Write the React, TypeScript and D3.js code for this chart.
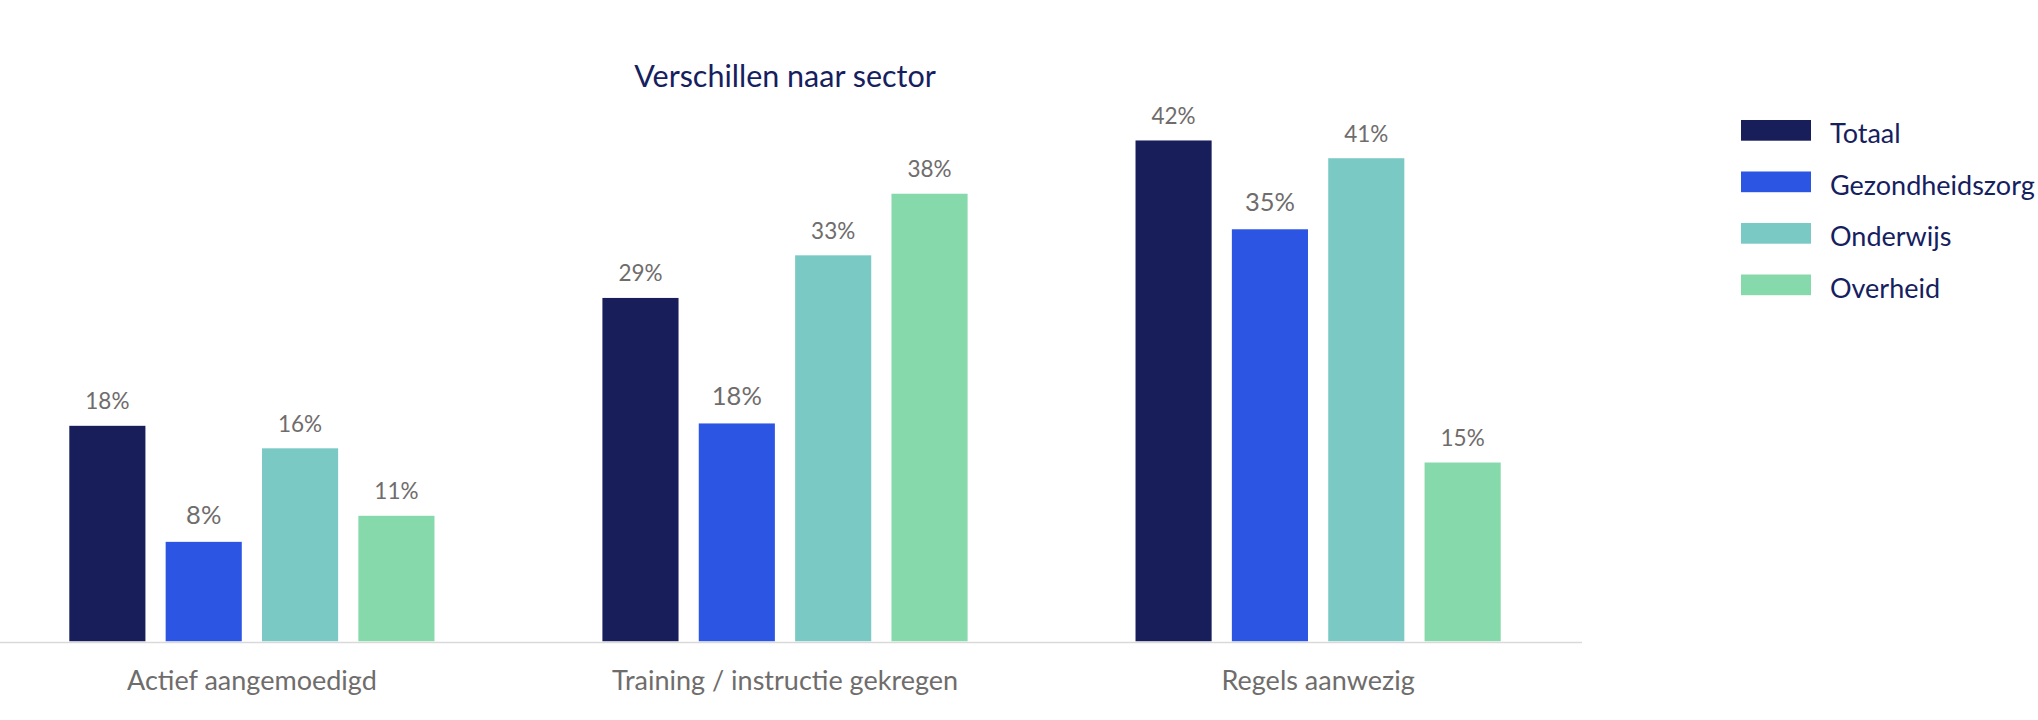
import React from 'react';
import * as d3 from 'd3';

const categories = ['Actief aangemoedigd', 'Training / instructie gekregen', 'Regels aanwezig'];
const seriesNames = ['Totaal', 'Gezondheidszorg', 'Onderwijs', 'Overheid'];
const totaal = [18.2, 29.0, 42.3];
const gezondheidszorg = [8.4, 18.4, 34.8];
const onderwijs = [16.3, 32.6, 40.8];
const overheid = [10.6, 37.8, 15.1];
const seriesColors = ['#171e5a', '#2c55e3', '#7bc9c5', '#86d9aa'];

const W = 2038;
const H = 720;
const baseY = 641.3;
const FONT = 'Lato, "Open Sans", sans-serif';

export default function App() {
  const values = [totaal, gezondheidszorg, onderwijs, overheid];

  const x0 = d3.scaleBand<string>()
    .domain(categories)
    .range([0, 1570])
    .paddingInner(0.315)
    .paddingOuter(0.13);

  const x1 = d3.scaleBand<string>()
    .domain(seriesNames)
    .range([0, x0.bandwidth()])
    .paddingInner(0.21)
    .paddingOuter(0);

  const y = d3.scaleLinear()
    .domain([0, 45])
    .range([baseY, baseY - 45 * 11.84]);

  return (
    <svg
      width={W}
      height={H}
      viewBox={`0 0 ${W} ${H}`}
      style={{ position: 'absolute', left: 0, top: 0, background: '#fff' }}
    >
      <text
        x={x0(categories[1])! + x0.bandwidth() / 2}
        y={86.5}
        textAnchor="middle"
        fontFamily={FONT}
        fontSize={30.5}
        fill="#15205e"
      >
        Verschillen naar sector
      </text>

      {/* bars + value labels */}
      {categories.map((cat, ci) => (
        <g key={cat} transform={`translate(${x0(cat)},0)`}>
          {seriesNames.map((s, si) => {
            const v = values[si][ci];
            const big = si === 1;
            return (
              <g key={s}>
                <rect
                  x={x1(s)}
                  y={y(v)}
                  width={x1.bandwidth()}
                  height={y(0) - y(v)}
                  fill={seriesColors[si]}
                />
                <text
                  x={x1(s)! + x1.bandwidth() / 2}
                  y={y(v) - (big ? 18 : 16.5)}
                  textAnchor="middle"
                  fontFamily={FONT}
                  fontSize={big ? 25.5 : 22.5}
                  fill="#6f6c6c"
                >
                  {Math.round(v)}%
                </text>
              </g>
            );
          })}
          <text
            x={x0.bandwidth() / 2}
            y={690}
            textAnchor="middle"
            fontFamily={FONT}
            fontSize={27}
            fill="#6f6c6c"
          >
            {cat}
          </text>
        </g>
      ))}

      <line x1={0} x2={1582} y1={642.5} y2={642.5} stroke="#d9d9d9" strokeWidth={1.5} />

      {/* legend */}
      {seriesNames.map((s, si) => (
        <g key={s} transform={`translate(1741,${120 + si * 51.5})`}>
          <rect x={0} y={0} width={70} height={20.7} fill={seriesColors[si]} />
          <text x={89} y={23.3} fontFamily={FONT} fontSize={27} fill="#15205e">
            {s}
          </text>
        </g>
      ))}
    </svg>
  );
}
